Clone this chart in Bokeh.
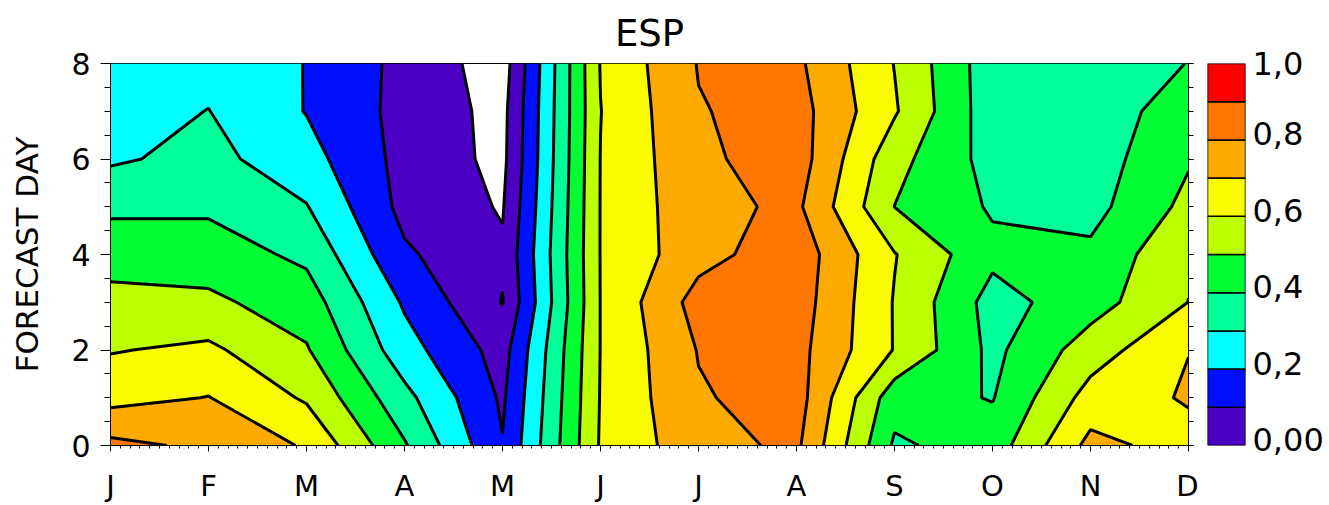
import numpy as np
from bokeh.plotting import figure
from bokeh.layouts import row
from bokeh.models import Range1d, FixedTicker, LinearAxis, CustomJSTickFormatter
from bokeh.embed import file_html
from bokeh.resources import INLINE

# ---------------- data ----------------
months = [1, 2, 3, 4, 5, 6, 7, 8, 9, 10, 11, 12]
month_labels = ["J", "F", "M", "A", "M", "J", "J", "A", "S", "O", "N", "D"]
forecast_days = [0, 1, 2, 3, 4, 5, 6, 7, 8]
day_ticks = [0, 2, 4, 6, 8]

# score per forecast day (0..8) for each month
jan = [0.827, 0.666, 0.594, 0.530, 0.460, 0.380, 0.286, 0.260, 0.240]
feb = [0.780, 0.703, 0.620, 0.520, 0.450, 0.383, 0.330, 0.302, 0.270]
mar = [0.690, 0.587, 0.509, 0.450, 0.378, 0.305, 0.238, 0.196, 0.197]
apr = [0.410, 0.330, 0.240, 0.187, 0.115, 0.070, 0.067, 0.068, 0.071]
may = [0.105, 0.085, 0.060, -0.004, 0.014, -0.008, -0.026, -0.031, -0.050]
jun = [0.610, 0.605, 0.602, 0.602, 0.603, 0.603, 0.602, 0.598, 0.605]
jul = [0.765, 0.790, 0.805, 0.840, 0.765, 0.770, 0.780, 0.794, 0.805]
aug = [0.820, 0.845, 0.833, 0.850, 0.860, 0.820, 0.850, 0.840, 0.820]
sep = [0.385, 0.440, 0.595, 0.594, 0.605, 0.499, 0.534, 0.611, 0.597]
oct_ = [0.446, 0.395, 0.375, 0.361, 0.424, 0.389, 0.362, 0.340, 0.340]
nov = [0.730, 0.640, 0.550, 0.457, 0.420, 0.366, 0.350, 0.340, 0.350]
dec = [0.660, 0.711, 0.698, 0.601, 0.590, 0.528, 0.490, 0.455, 0.402]

levels = [0.0, 0.1, 0.2, 0.3, 0.4, 0.5, 0.6, 0.7, 0.8, 0.9, 1.0]
fill_colors = ["#4B00C3", "#0010FF", "#00FFFF", "#00FF99", "#00FF33",
               "#BBFF00", "#FAFA00", "#FFAA00", "#FF7700", "#FF0000"]
cbar_label_values = [0.0, 0.2, 0.4, 0.6, 0.8, 1.0]
cbar_labels = ["0,00", "0,2", "0,4", "0,6", "0,8", "1,0"]

Z = np.array([jan, feb, mar, apr, may, jun, jul, aug, sep, oct_, nov, dec]).T

FONT = "DejaVu Sans"

# ---------------- main contour plot ----------------
p = figure(width=1198, height=505, x_range=Range1d(1, 12), y_range=Range1d(0, 8),
           output_backend="svg", toolbar_location=None, title="ESP",
           min_border_left=110, min_border_right=10, min_border_top=63,
           min_border_bottom=58)
p.title.align = "center"
p.title.text_font = FONT
p.title.text_font_size = "37px"
p.title.text_font_style = "normal"
p.title.text_color = "black"
p.title.standoff = 18
p.grid.visible = False
p.outline_line_color = "black"
p.outline_line_width = 1
p.background_fill_color = "white"
p.border_fill_color = "white"

p.contour(x=np.array(months, dtype=float), y=np.array(forecast_days, dtype=float), z=Z,
          levels=levels, fill_color=fill_colors, line_color="black", line_width=3)

xminor = list(np.round(np.arange(1, 12.0001, 0.1), 3))
p.xaxis.ticker = FixedTicker(ticks=months, minor_ticks=xminor)
p.xaxis.major_label_overrides = {m: l for m, l in zip(months, month_labels)}
p.xaxis.major_tick_out = 6
p.xaxis.major_tick_in = 0
p.xaxis.minor_tick_out = 3
p.xaxis.minor_tick_in = 0
p.xaxis.major_label_standoff = 17
p.xaxis.major_label_text_font = FONT
p.xaxis.major_label_text_font_size = "29px"

yminor = list(np.arange(0, 8.001, 0.5))
p.yaxis.ticker = FixedTicker(ticks=day_ticks, minor_ticks=yminor)
p.yaxis.major_tick_out = 10
p.yaxis.major_tick_in = 0
p.yaxis.minor_tick_out = 6
p.yaxis.minor_tick_in = 0
p.yaxis.major_label_standoff = 10
p.yaxis.major_label_text_font = FONT
p.yaxis.major_label_text_font_size = "30px"
p.yaxis.axis_label = "FORECAST DAY"
p.yaxis.axis_label_text_font = FONT
p.yaxis.axis_label_text_font_size = "31px"
p.yaxis.axis_label_text_font_style = "normal"
p.yaxis.axis_label_text_color = "black"
p.yaxis.axis_label_standoff = 23

for ax in p.axis:
    ax.axis_line_color = "black"
    ax.major_tick_line_color = "black"
    ax.minor_tick_line_color = "black"
    ax.major_label_text_color = "black"

right_axis = LinearAxis(ticker=FixedTicker(ticks=day_ticks, minor_ticks=yminor),
                        major_tick_out=5, major_tick_in=0, minor_tick_out=5, minor_tick_in=0,
                        major_label_overrides={t: "" for t in day_ticks},
                        major_label_text_font_size="1px", major_label_standoff=0)
p.add_layout(right_axis, "right")

# ---------------- colour bar ----------------
cb = figure(width=131, height=505, x_range=Range1d(0, 1), y_range=Range1d(0, 1),
            output_backend="svg", toolbar_location=None,
            min_border_left=9, min_border_right=84, min_border_top=63, min_border_bottom=58)
cb.xaxis.visible = False
cb.yaxis.visible = False
cb.grid.visible = False
cb.outline_line_color = None
cb.background_fill_color = "white"
cb.border_fill_color = "white"
cb.quad(left=0, right=1, bottom=levels[:-1], top=levels[1:], fill_color=fill_colors,
        line_color="black", line_width=1.5)

label_ticks = [min(v + 6 / 384, 1.0) for v in cbar_label_values]
cb_axis = LinearAxis(ticker=FixedTicker(ticks=label_ticks, minor_ticks=[]),
                     formatter=CustomJSTickFormatter(args=dict(labels=cbar_labels),
                                                     code="return labels[index]"),
                     axis_line_color=None, major_tick_line_color=None,
                     minor_tick_line_color=None, major_tick_out=0, major_tick_in=0,
                     major_label_standoff=7, major_label_text_font=FONT,
                     major_label_text_font_size="32px", major_label_text_color="black")
cb.add_layout(cb_axis, "right")

layout = row(p, cb)
open("out.html", "w").write(file_html(layout, INLINE))
